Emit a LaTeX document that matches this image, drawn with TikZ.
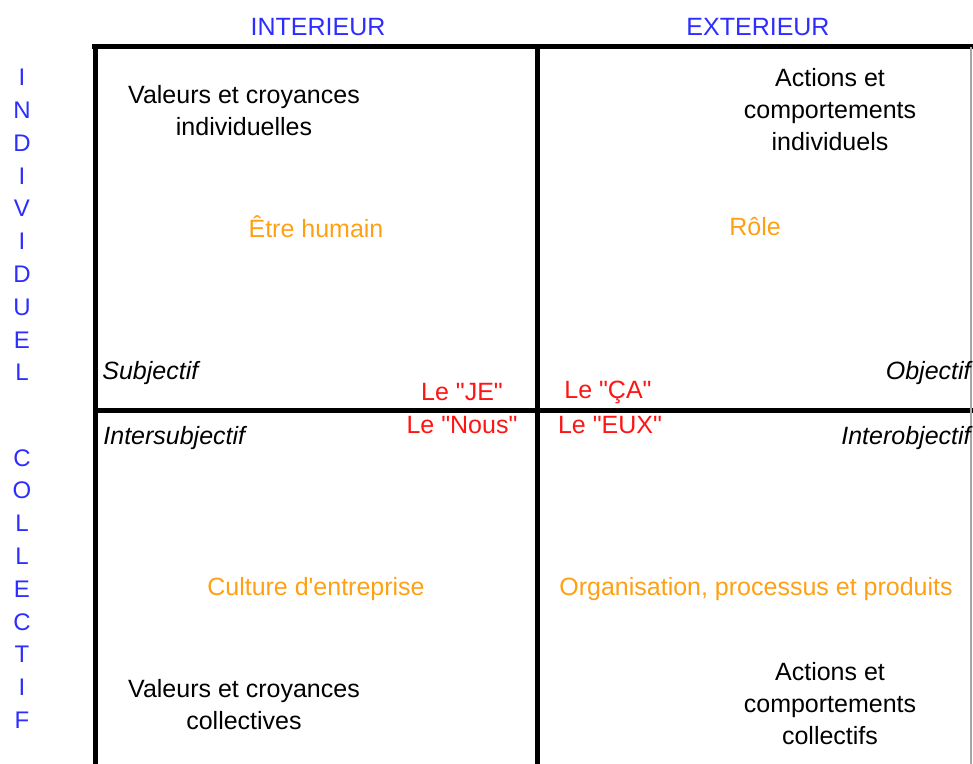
\documentclass[tikz,border=0pt]{standalone}
\usepackage{fontspec}
\setmainfont{Liberation Sans}[Ligatures=TeXOff]
\usetikzlibrary{positioning}
\definecolor{axisblue}{RGB}{45,45,255}
\definecolor{quadorange}{RGB}{255,160,20}
\definecolor{pronred}{RGB}{255,20,20}

\begin{document}
\begin{tikzpicture}[
    x=0.5pt, y=-0.5pt,
    txt/.style={
      font=\fontsize{12.5}{16}\selectfont,
      align=center,
      inner sep=0pt,
    },
    axis/.style={txt, text=axisblue},
    letters/.style={txt, text=axisblue, font=\fontsize{12}{16.4}\selectfont},
    quad/.style={txt, text=quadorange},
    pron/.style={txt, text=pronred},
    view/.style={txt, font=\fontsize{12.5}{16}\selectfont\itshape},
    bar/.style={line width=2.5pt},
  ]
    \useasboundingbox (0,0) rectangle (973,764);

    % grid of the four quadrants
    \coordinate (tl) at (95,47);
    \coordinate (tm) at (537,47);
    \coordinate (tr) at (973,47);
    \coordinate (ml) at (95,410);
    \coordinate (mr) at (973,410);
    \coordinate (bl) at (95,764);
    \coordinate (bm) at (537,764);
    \draw[bar] (92,47) -- (tr);
    \draw[bar] (95,45) -- (bl);
    \draw[bar] (537,45) -- (bm);
    \draw[bar] (ml) -- (mr);
    \draw[gray!70, line width=0.6pt] (971,47) -- (971,764);

    % axes
    \node[axis] (interieur) at (318,27) {INTERIEUR};
    \node[axis] (exterieur) at (758,27) {EXTERIEUR};
    \node[letters] (individuel) at (22,225)
      {I\\N\\D\\I\\V\\I\\D\\U\\E\\L};
    \node[letters] (collectif) at (22,589)
      {C\\O\\L\\L\\E\\C\\T\\I\\F};

    % top left
    \node[txt] (valind) at (244,111) {Valeurs et croyances\\individuelles};
    \node[quad] (humain) at (316,227) {Être humain};
    \node[view, anchor=west] (subj) at (102,373) {Subjectif};

    % top right
    \node[txt] (actind) at (830,110) {Actions et\\comportements\\individuels};
    \node[quad] (role) at (755,227) {Rôle};
    \node[view, anchor=east] (obj) at (971,373) {Objectif};

    % pronouns
    \node[pron] (je) at (462,392) {Le "JE"};
    \node[pron] (nous) at (462,425) {Le "Nous"};
    \node[pron] (ca) at (608,392) {Le "ÇA"};
    \node[pron] (eux) at (610,425) {Le "EUX"};

    % bottom left
    \node[view, anchor=west] (intersubj) at (103,438) {Intersubjectif};
    \node[quad] (culture) at (316,589) {Culture d'entreprise};
    \node[txt] (valcol) at (244,705) {Valeurs et croyances\\collectives};

    % bottom right
    \node[view, anchor=east] (interobj) at (971,438) {Interobjectif};
    \node[quad] (orga) at (756,589) {Organisation, processus et produits};
    \node[txt] (actcol) at (830,704) {Actions et\\comportements\\collectifs};
  \end{tikzpicture}
\end{document}
